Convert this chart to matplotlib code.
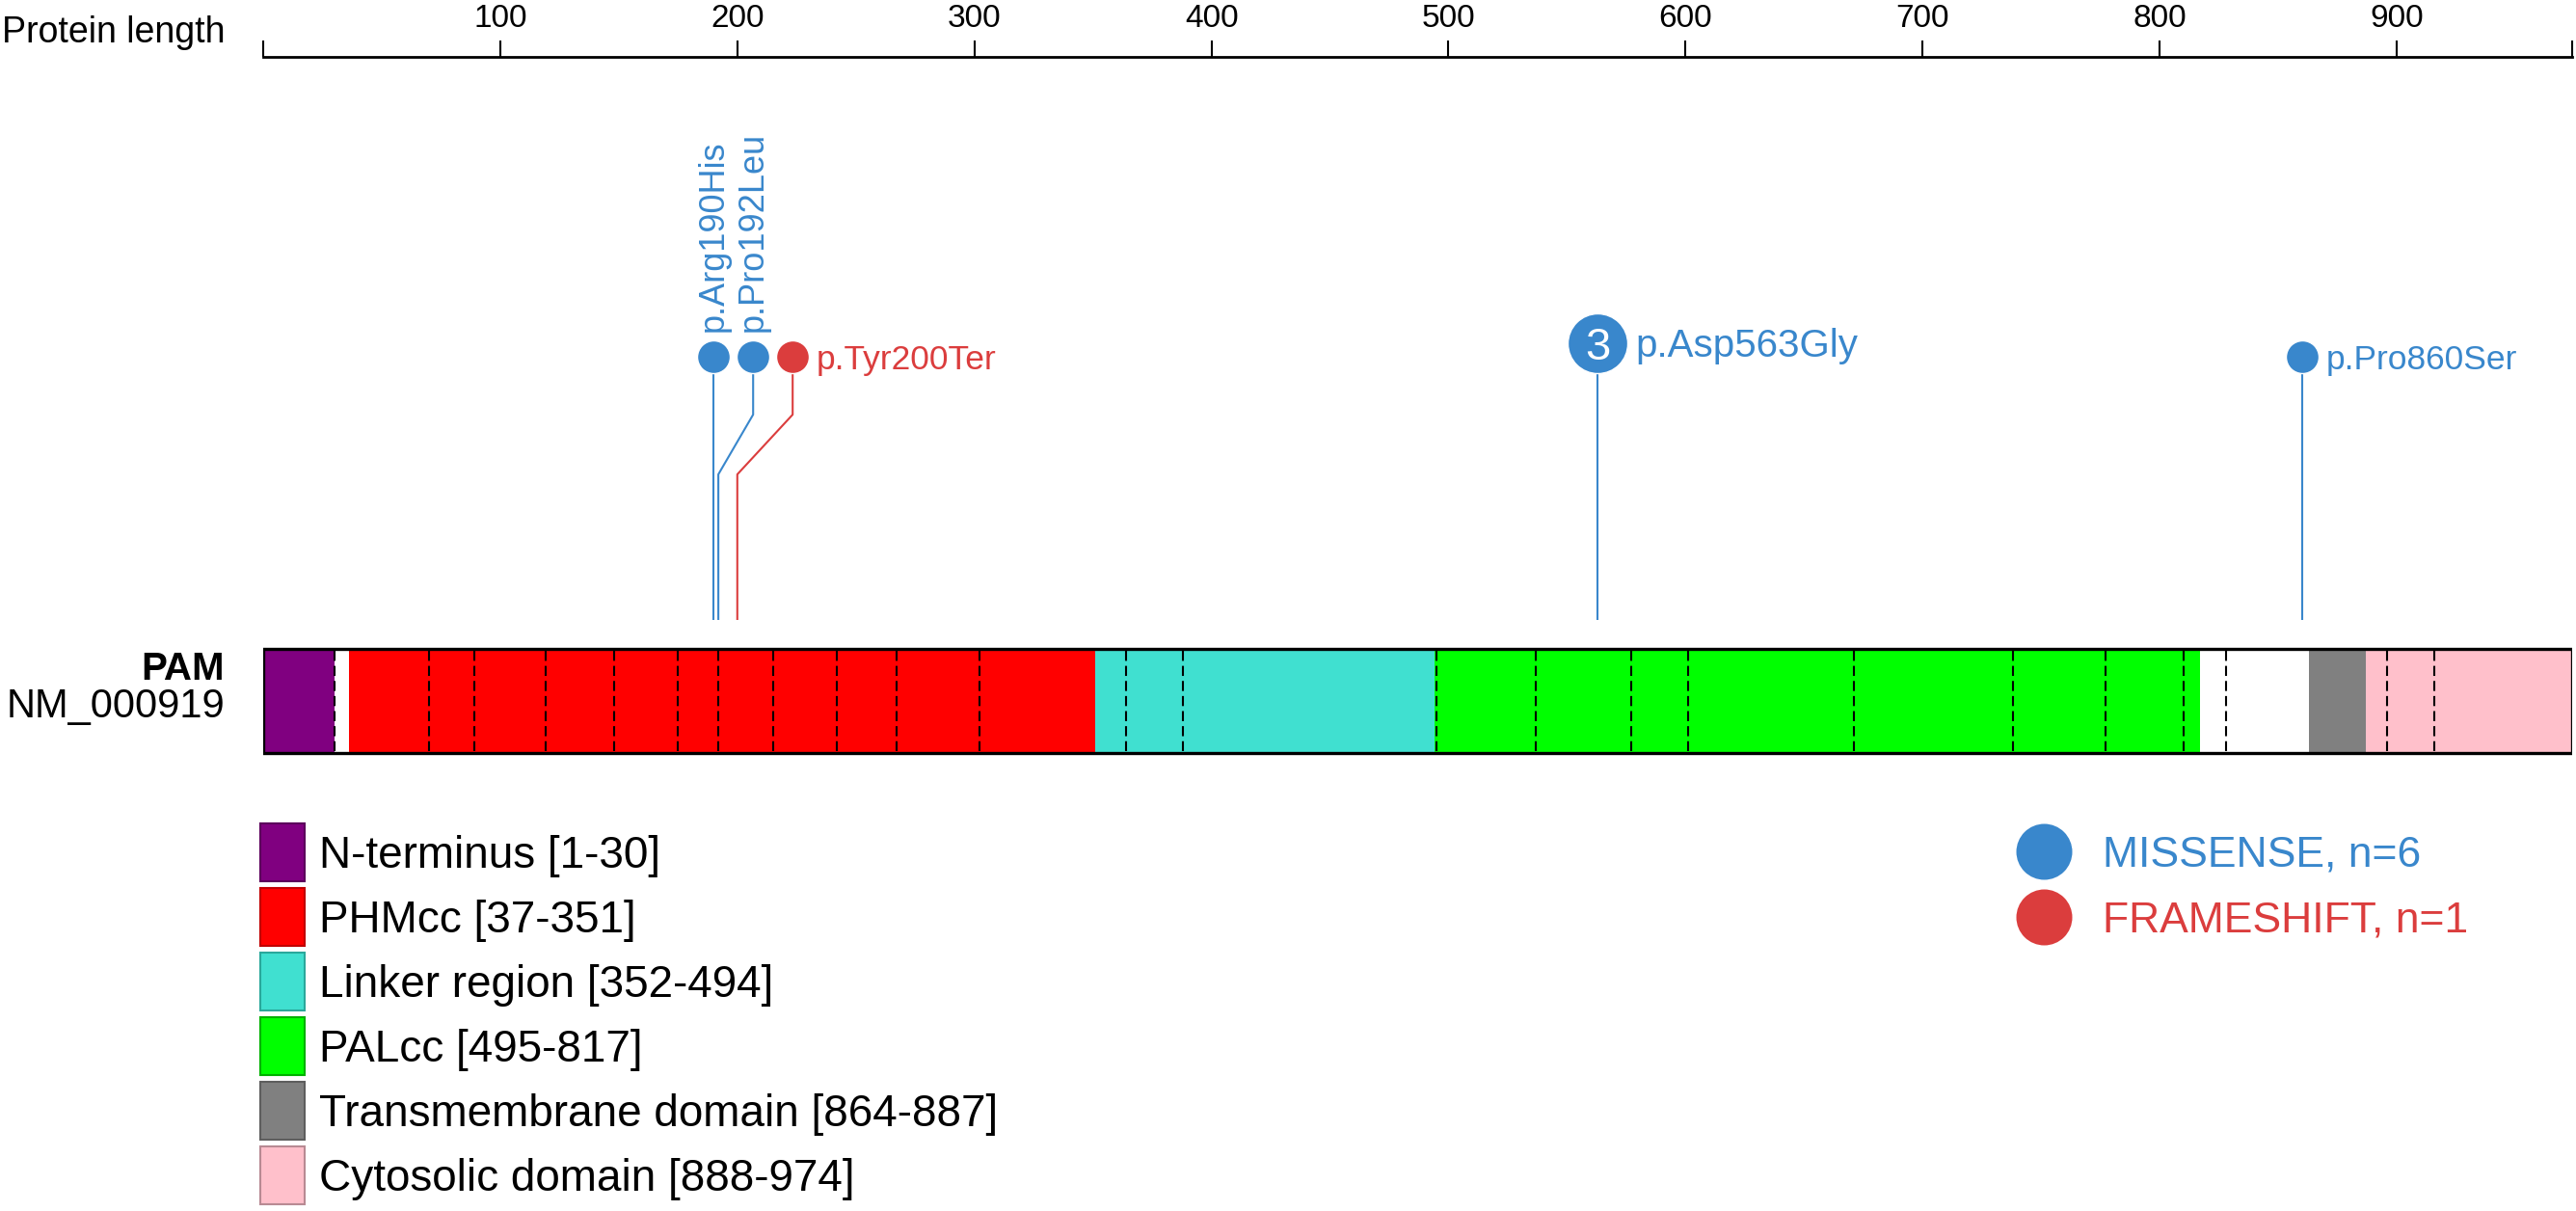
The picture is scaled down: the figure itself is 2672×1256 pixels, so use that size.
import matplotlib
matplotlib.use("Agg")
import matplotlib.pyplot as plt
from matplotlib.patches import Rectangle

plt.rcParams['font.family'] = ['Liberation Sans', 'DejaVu Sans']

# ---------------- data ----------------
protein_length = 974
gene_name = "PAM"
transcript = "NM_000919"
axis_title = "Protein length"
ruler_ticks = [100, 200, 300, 400, 500, 600, 700, 800, 900]

domain_names = ["N-terminus", "PHMcc", "Linker region", "PALcc",
                "Transmembrane domain", "Cytosolic domain"]
domain_starts = [1, 37, 352, 495, 864, 888]
domain_ends = [30, 351, 494, 817, 887, 974]
domain_colors = ["#800080", "#ff0000", "#40e0d0", "#00ff00", "#808080", "#ffc0cb"]
domain_edges = ["#5c005c", "#c00000", "#2aa89b", "#00b000", "#5e5e5e", "#b88a93"]

exon_boundaries = [30, 70, 89, 119, 148, 175, 192, 215, 242, 267, 302, 364, 388,
                   495, 537, 577, 601, 671, 738, 777, 810, 828, 896, 916]

mut_labels = ["p.Arg190His", "p.Pro192Leu", "p.Tyr200Ter", "p.Asp563Gly", "p.Pro860Ser"]
mut_positions = [190, 192, 200, 563, 860]
mut_classes = ["MISSENSE", "MISSENSE", "FRAMESHIFT", "MISSENSE", "MISSENSE"]
mut_counts = [1, 1, 1, 3, 1]

class_names = ["MISSENSE", "FRAMESHIFT"]
class_colors = {"MISSENSE": "#3987cc", "FRAMESHIFT": "#db3d3d"}

# ---------------- layout ----------------
W, H = 2672, 1256
X0, X1 = 273, 2668
PT = 100 / 72.0  # px per point

def cap_px(fs):
    return 0.716 * fs * PT

fig = plt.figure(figsize=(W / 100, H / 100), dpi=100)

ov = fig.add_axes([0, 0, 1, 1])
ov.set_xlim(0, W)
ov.set_ylim(H, 0)
ov.axis('off')

ax = fig.add_axes([X0 / W, 0, (X1 - X0) / W, 1])
ax.set_xlim(0, protein_length)
ax.set_ylim(H, 0)
ax.axis('off')
ax.patch.set_visible(False)
ppa = (X1 - X0) / protein_length

# ruler
ruler_y = 59
ax_r = fig.add_axes([X0 / W, 1 - ruler_y / H - 0.01, (X1 - X0) / W, 0.01])
ax_r.set_xlim(0, protein_length)
for s in ['left', 'right', 'bottom']:
    ax_r.spines[s].set_visible(False)
ax_r.spines['top'].set_linewidth(2.0)
ax_r.patch.set_visible(False)
ax_r.xaxis.tick_top()
ax_r.set_xticks(ruler_ticks)
ax_r.set_xticklabels([str(t) for t in ruler_ticks])
ax_r.set_xticks([0, protein_length], minor=True)
ax_r.tick_params(which='both', axis='x', direction='out', length=12.5, width=1.5,
                 labelsize=24, pad=5, top=True, bottom=False,
                 labeltop=True, labelbottom=False)
ax_r.set_yticks([])

fs_title = 27
ov.text(2, 44, axis_title, ha='left', va='baseline', fontsize=fs_title)

# protein bar
bar_top, bar_bot = 673, 781
bar_c = (bar_top + bar_bot) / 2
bar_h = bar_bot - bar_top
for st, en, col in zip(domain_starts, domain_ends, domain_colors):
    ax.barh(bar_c, en - st + 1, left=st - 1, height=bar_h, color=col,
            edgecolor='none', zorder=1)
ax.vlines(exon_boundaries, bar_top + 2, bar_bot - 2, colors='black',
          linestyles=(0, (5, 2.5)), linewidth=1.5, zorder=2)
ax.barh(bar_c, protein_length, left=0, height=bar_h, fill=False,
        edgecolor='black', linewidth=2.4, zorder=3)

fs_gene = 30
ov.text(233, 705, gene_name, ha='right', va='baseline', fontsize=29,
        fontweight='bold')
ov.text(233, 744, transcript, ha='right', va='baseline', fontsize=fs_gene)

# mutations
min_sep = 41 / ppa
order = sorted(range(len(mut_positions)), key=lambda i: mut_positions[i])
disp = {}
prev = None
for i in order:
    d = mut_positions[i] if prev is None else max(mut_positions[i], prev + min_sep)
    disp[i] = d
    prev = d

base_y = 387
for k, i in enumerate(order):
    p = mut_positions[i]
    d = disp[i]
    col = class_colors[mut_classes[i]]
    cnt = mut_counts[i]
    r = 17 + 7 * (cnt - 1)
    cy = base_y - r
    ax.plot([p, p, d, d], [bar_top - 30, 492, 430, cy], color=col, lw=1.5,
            zorder=2, solid_capstyle='butt')
    ax.plot([d], [cy], marker='o', ms=2 * r / PT, mfc=col, mec='white', mew=1,
            zorder=4, linestyle='none')
    if cnt > 1:
        ax.text(d, cy + cap_px(34) / 2, str(cnt), color='white', fontsize=34,
                ha='center', va='baseline', zorder=5)
    nxt = order[k + 1] if k + 1 < len(order) else None
    vertical = nxt is not None and (disp[nxt] - d) < 2 * min_sep
    fs = 25.5 if cnt == 1 else 29
    if vertical:
        ax.text(d, cy - r - 9, mut_labels[i], rotation=90, ha='center',
                va='bottom', fontsize=26, color=col, zorder=5)
    else:
        ax.text(d + (r + 8) / ppa, cy + cap_px(fs) / 2, mut_labels[i],
                ha='left', va='baseline', fontsize=fs, color=col, zorder=5)

# domain legend
fs_leg = 33
leg_top, leg_pitch, sq_w, sq_h = 854, 67, 46, 60
for j, (nm, st, en, col, ec) in enumerate(zip(domain_names, domain_starts, domain_ends,
                                              domain_colors, domain_edges)):
    y0 = leg_top + j * leg_pitch
    ov.add_patch(Rectangle((270, y0), sq_w, sq_h, facecolor=col, edgecolor=ec,
                           linewidth=1.5))
    ov.text(331, y0 + sq_h / 2 + cap_px(fs_leg) / 2, f"{nm} [{st}-{en}]",
            ha='left', va='baseline', fontsize=fs_leg, color='black')

# class legend
fs_cls = 32
for j, cname in enumerate(class_names):
    n = sum(c for c, k in zip(mut_counts, mut_classes) if k == cname)
    cy = 883 + j * 68
    col = class_colors[cname]
    ov.plot([2120], [cy], marker='o', ms=58 / PT, mfc=col, mec='none',
            linestyle='none')
    ov.text(2181, cy + cap_px(fs_cls) / 2, f"{cname}, n={n}", ha='left',
            va='baseline', fontsize=fs_cls, color=col)

fig.savefig("out.png", dpi=100)
